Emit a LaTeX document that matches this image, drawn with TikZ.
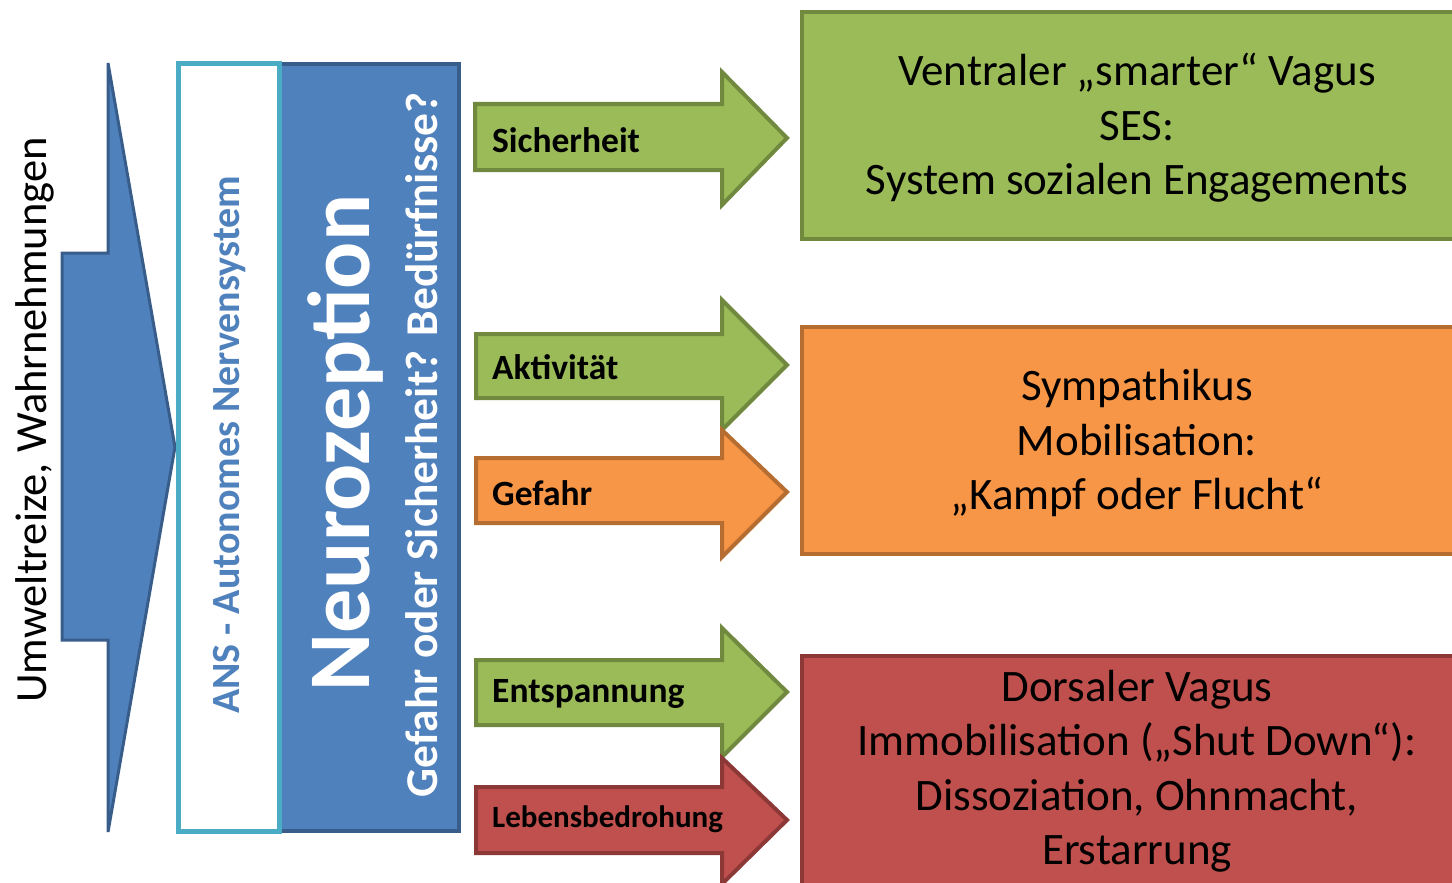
\documentclass[tikz,border=0pt]{standalone}
\usepackage{fontspec}
\setmainfont{Carlito}
\definecolor{bluef}{HTML}{4F81BD}
\definecolor{blued}{HTML}{385D8A}
\definecolor{teal}{HTML}{4BACC6}
\definecolor{greenf}{HTML}{9BBB59}
\definecolor{greend}{HTML}{71893F}
\definecolor{orangef}{HTML}{F79646}
\definecolor{oranged}{HTML}{B66D31}
\definecolor{redf}{HTML}{C0504D}
\definecolor{redd}{HTML}{8C3836}
\begin{document}
\begin{tikzpicture}[x=1pt,y=-1pt,
  garrow/.style={fill=greenf,draw=greend,line width=4pt,line join=miter},
  oarrow/.style={fill=orangef,draw=oranged,line width=4pt,line join=miter},
  rarrow/.style={fill=redf,draw=redd,line width=4pt,line join=miter},
  arrowlabel/.style={anchor=west,font=\fontsize{35.5}{40}\selectfont\bfseries,inner sep=0pt},
  boxtext/.style={align=center,font=\fontsize{45}{54.5}\selectfont,inner sep=0pt}]
\useasboundingbox (0,0) rectangle (1452,883);
% big input arrow
\draw[fill=bluef,draw=blued,line width=3pt,line join=miter]
  (62,253) -- (108,253) -- (108,63) -- (175,447) -- (108,832) -- (108,640) -- (62,640) -- cycle;
\node[rotate=90,font=\fontsize{44.5}{50}\selectfont,inner sep=0pt] (umwelt) at (35,420) {Umweltreize, Wahrnehmungen};
% Neurozeption box
\node[draw=blued,line width=4pt,fill=bluef,minimum width=179pt,minimum height=767pt,inner sep=0pt,anchor=west] (neuro) at (278,447.5) {};
% ANS box
\node[draw=teal,line width=5pt,fill=white,minimum width=101pt,minimum height=767pt,inner sep=0pt] (ans) at (228.5,447.5) {};
\node[rotate=90,text=bluef,font=\fontsize{40}{46}\selectfont\bfseries,inner sep=0pt] (anstext) at (230,445) {ANS - Autonomes Nervensystem};
\node[rotate=90,text=white,font=\fontsize{88}{96}\selectfont\bfseries,inner sep=0pt] (neurotext) at (345,443) {Neurozeption};
\node[rotate=90,text=white,font=\fontsize{45.5}{50}\selectfont\bfseries,inner sep=0pt] (frage) at (422,445) {Gefahr oder Sicherheit? Bedürfnisse?};
% arrows
\draw[garrow] (475,104) -- (722,104) -- (722,72) -- (787,138) -- (722,205) -- (722,170) -- (475,170) -- cycle;
\node[arrowlabel] (sich) at (492,140) {Sicherheit};
\draw[garrow] (476,334) -- (722,334) -- (722,300) -- (787,365) -- (722,430) -- (722,398) -- (476,398) -- cycle;
\node[arrowlabel] (akt) at (492,367) {Aktivität};
\draw[oarrow] (476,458) -- (722,458) -- (722,430) -- (787,492) -- (722,557) -- (722,523) -- (476,523) -- cycle;
\node[arrowlabel] (gef) at (492,493) {Gefahr};
\draw[garrow] (476,660) -- (722,660) -- (722,628) -- (787,692) -- (722,757) -- (722,725) -- (476,725) -- cycle;
\node[arrowlabel] (ent) at (492,694) {Entspannung};
\draw[rarrow] (476,787) -- (722,787) -- (722,758) -- (787,820) -- (722,884) -- (722,853) -- (476,853) -- cycle;
\node[arrowlabel,font=\fontsize{31}{36}\selectfont\bfseries] (leb) at (492,819) {Lebensbedrohung};
% result boxes
\draw[fill=greenf,draw=greend,line width=4pt] (802,12) rectangle (1470,239);
\node[boxtext] (ventral) at (1137,128) {Ventraler „smarter“ Vagus\\SES:\\System sozialen Engagements};
\draw[fill=orangef,draw=oranged,line width=4pt] (802,327) rectangle (1470,554);
\node[boxtext] (symp) at (1137,443) {Sympathikus\\Mobilisation:\\„Kampf oder Flucht“};
\draw[fill=redf,draw=redd,line width=4pt] (802,656) rectangle (1470,900);
\node[boxtext] (dorsal) at (1137,771) {Dorsaler Vagus\\Immobilisation („Shut Down“):\\Dissoziation, Ohnmacht,\\Erstarrung};
\end{tikzpicture}
\end{document}
